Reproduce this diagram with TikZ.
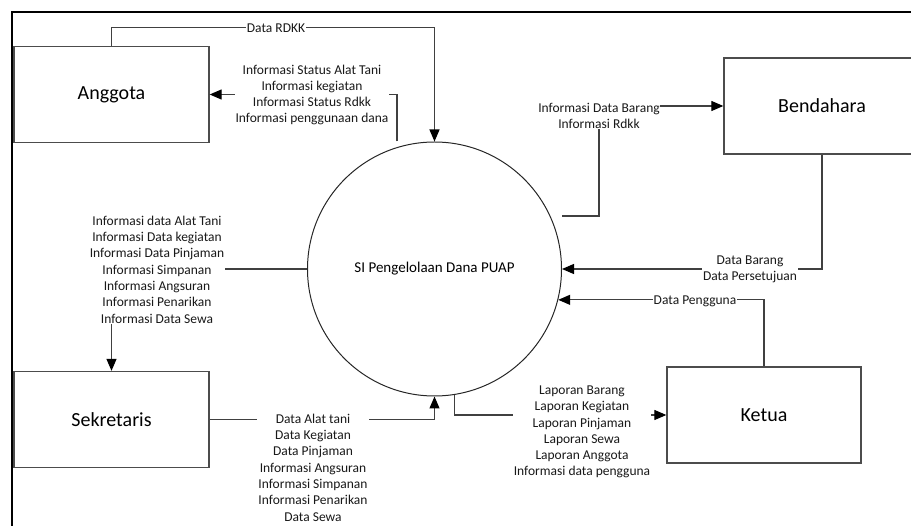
\documentclass[tikz,border=0pt]{standalone}
\usepackage{fontspec}
\setmainfont{Carlito}
\usetikzlibrary{arrows.meta,calc}

\begin{document}
\begin{tikzpicture}[x=1pt,y=-1pt,
  entity/.style={draw=black!70, line width=1.3pt, minimum width=195pt, minimum height=96pt,
    inner sep=0pt, font=\fontsize{20}{22}\selectfont},
  process/.style={draw=black!85, line width=1pt, circle, minimum size=254pt, inner sep=0pt,
    font=\fontsize{15}{18}\selectfont},
  flow/.style={draw=black!75, line width=1.2pt, -{Triangle[length=12pt,width=10pt,color=black]}},
  flowlabel/.style={fill=white, inner sep=1pt, align=center, text=black!90,
    font=\fontsize{13.5}{16.3}\selectfont},
]
\useasboundingbox (0,0) rectangle (911,526);
\clip (0,0) rectangle (911,526);

% outer frame
\draw[line width=2.8pt] (12,1000) -- (12,12) -- (1000,12);

% external entities and the process
\node[entity] (ang) at (111.5,94.5) {Anggota};
\node[entity] (sek) at (111.5,419.5) {Sekretaris};
\node[entity, minimum width=196pt] (ben) at (822,106) {Bendahara};
\node[entity, minimum width=194pt] (ket) at (764,415) {Ketua};
\node[process] (proc) at (434.5,269) {SI Pengelolaan Dana PUAP};

% Anggota -> process
\draw[flow] (ang.north) -- ++(0,-18) coordinate (rdkk) -| (proc.north);
\node[flowlabel] (lrdkk) at (276,28) {Data RDKK};

% process -> Anggota
\coordinate (pa) at ($(proc.north)+(-37.5,0)$);
\draw[flow] (pa) |- (ang.east);
\node[flowlabel] (lang) at (312,95) {Informasi Status Alat Tani\\Informasi kegiatan\\Informasi Status Rdkk\\Informasi penggunaan dana};

% process -> Bendahara
\coordinate (pb) at ($(proc.east)+(0,-53)$);
\draw[flow] (pb) -- ++(37,0) |- (ben.west);
\node[flowlabel, inner sep=0pt] (lben) at (599,116) {Informasi Data Barang\\Informasi Rdkk};

% Bendahara -> process
\draw[flow] (ben.south) |- (proc.east);
\node[flowlabel] (lben2) at (750,269.5) {Data Barang\\Data Persetujuan};

% Ketua -> process
\draw[flow] (ket.north) |- (proc.-14.6);
\node[flowlabel] (lket) at (695,301) {Data Pengguna};

% process -> Ketua
\draw[flow] (proc.-81.6) |- (ket.west);
\node[flowlabel] (lket2) at (582,432) {Laporan Barang\\Laporan Kegiatan\\Laporan Pinjaman\\Laporan Sewa\\Laporan Anggota\\Informasi data pengguna};

% Sekretaris -> process
\draw[flow] (sek.east) -| (proc.south);
\node[flowlabel] (lsek) at (313,467.5) {Data Alat tani\\Data Kegiatan\\Data Pinjaman\\Informasi Angsuran\\Informasi Simpanan\\Informasi Penarikan\\Data Sewa};

% process -> Sekretaris
\draw[flow] (proc.west) -| (sek.north);
\node[flowlabel] (lsek2) at (157,269.5) {Informasi data Alat Tani\\Informasi Data kegiatan\\Informasi Data Pinjaman\\Informasi Simpanan\\Informasi Angsuran\\Informasi Penarikan\\Informasi Data Sewa};
\end{tikzpicture}
\end{document}
